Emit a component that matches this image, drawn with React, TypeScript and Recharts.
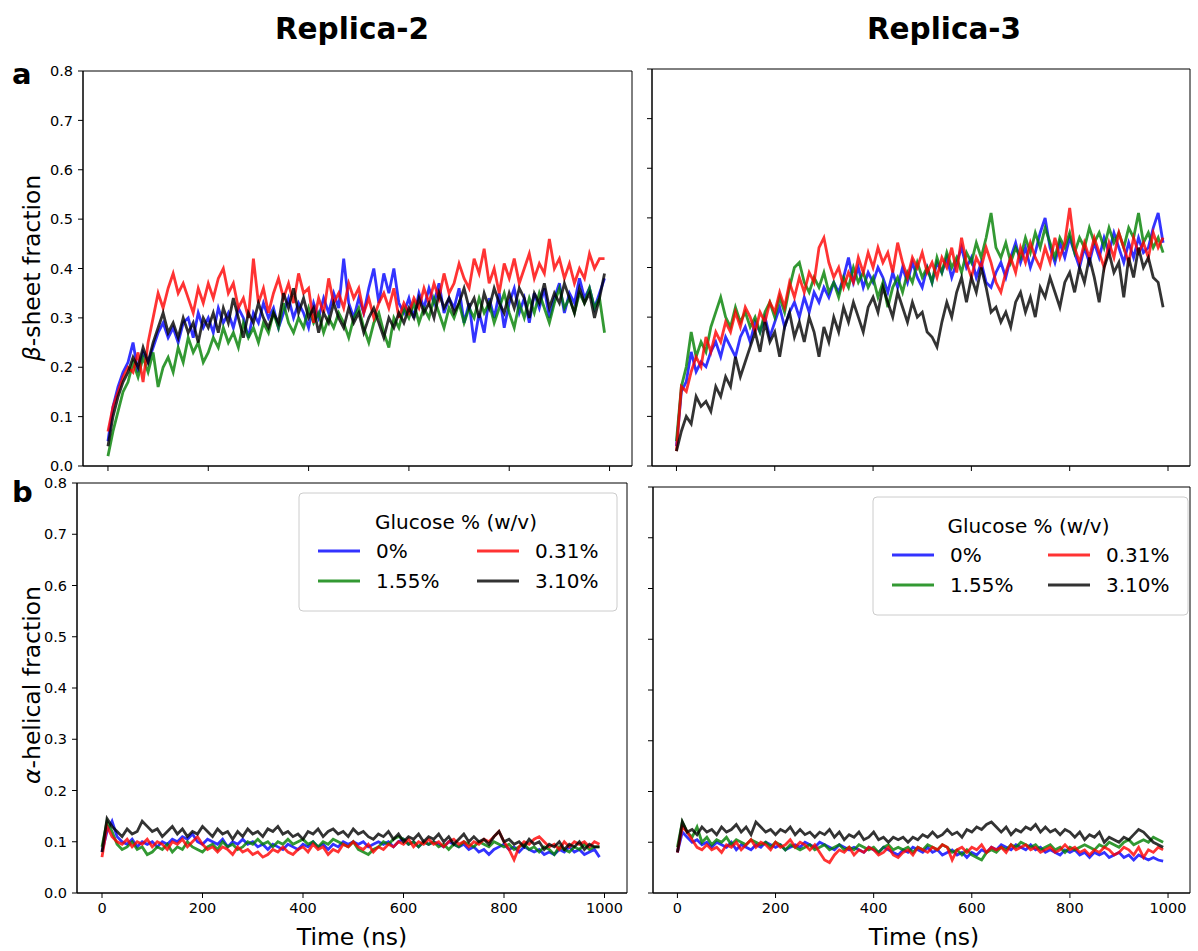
import React from "react";
import { LineChart, Line, XAxis, YAxis, ReferenceArea } from "recharts";

const FONT = "DejaVu Sans";

// time axis (ns), one sample every 10 ns
const timeNs = [
  0, 10, 20, 30, 40, 50, 60, 70, 80, 90, 100, 110, 120, 130, 140, 150, 160, 170, 180, 190,
  200, 210, 220, 230, 240, 250, 260, 270, 280, 290, 300, 310, 320, 330, 340, 350, 360, 370, 380, 390,
  400, 410, 420, 430, 440, 450, 460, 470, 480, 490, 500, 510, 520, 530, 540, 550, 560, 570, 580, 590,
  600, 610, 620, 630, 640, 650, 660, 670, 680, 690, 700, 710, 720, 730, 740, 750, 760, 770, 780, 790,
  800, 810, 820, 830, 840, 850, 860, 870, 880, 890, 900, 910, 920, 930, 940, 950, 960, 970, 980, 990,
];

const xTicks = [0, 200, 400, 600, 800, 1000];
const yTicks = [0, 0.1, 0.2, 0.3, 0.4, 0.5, 0.6, 0.7, 0.8];

// Replica-2, beta-sheet fraction
const r2SheetBlue = [
  0.05, 0.12, 0.16, 0.19, 0.21, 0.25, 0.19, 0.23, 0.21, 0.24, 0.27, 0.29, 0.26, 0.28, 0.25, 0.29, 0.30, 0.26, 0.31, 0.28,
  0.30, 0.27, 0.32, 0.29, 0.31, 0.28, 0.32, 0.30, 0.26, 0.31, 0.29, 0.33, 0.30, 0.32, 0.28, 0.31, 0.34, 0.30, 0.33, 0.31,
  0.28, 0.33, 0.30, 0.34, 0.31, 0.35, 0.32, 0.42, 0.33, 0.30, 0.34, 0.31, 0.36, 0.40, 0.33, 0.39, 0.35, 0.40, 0.33, 0.31,
  0.34, 0.30, 0.35, 0.32, 0.36, 0.33, 0.37, 0.31, 0.34, 0.32, 0.36, 0.29, 0.33, 0.25, 0.31, 0.27, 0.34, 0.30, 0.35, 0.28,
  0.33, 0.36, 0.31, 0.34, 0.29, 0.35, 0.32, 0.36, 0.30, 0.34, 0.37, 0.31, 0.35, 0.33, 0.38, 0.34, 0.36, 0.32, 0.35, 0.38,
];
const r2SheetRed = [
  0.07, 0.12, 0.15, 0.18, 0.20, 0.19, 0.23, 0.17, 0.25, 0.30, 0.35, 0.32, 0.36, 0.39, 0.35, 0.37, 0.34, 0.31, 0.36, 0.33,
  0.37, 0.34, 0.38, 0.40, 0.35, 0.37, 0.32, 0.34, 0.30, 0.42, 0.33, 0.36, 0.31, 0.35, 0.38, 0.34, 0.37, 0.33, 0.39, 0.35,
  0.36, 0.29, 0.34, 0.31, 0.38, 0.33, 0.35, 0.32, 0.37, 0.34, 0.36, 0.31, 0.34, 0.30, 0.33, 0.35, 0.32, 0.36, 0.30, 0.33,
  0.31, 0.34, 0.32, 0.36, 0.33, 0.37, 0.34, 0.39, 0.35, 0.37, 0.41, 0.38, 0.36, 0.42, 0.39, 0.44, 0.37, 0.40, 0.35, 0.41,
  0.38, 0.42, 0.37, 0.40, 0.43, 0.38, 0.41, 0.39, 0.46, 0.40, 0.42, 0.38, 0.41, 0.37, 0.40, 0.38, 0.43, 0.40, 0.42, 0.42,
];
const r2SheetGreen = [
  0.02, 0.07, 0.11, 0.15, 0.17, 0.21, 0.18, 0.22, 0.19, 0.23, 0.16, 0.20, 0.22, 0.19, 0.24, 0.21, 0.26, 0.23, 0.25, 0.21,
  0.23, 0.26, 0.24, 0.28, 0.25, 0.27, 0.24, 0.29, 0.26, 0.28, 0.25, 0.29, 0.27, 0.31, 0.28, 0.33, 0.29, 0.27, 0.30, 0.28,
  0.32, 0.29, 0.31, 0.27, 0.30, 0.28, 0.31, 0.29, 0.26, 0.30, 0.32, 0.28, 0.25, 0.29, 0.31, 0.27, 0.24, 0.30, 0.28, 0.32,
  0.30, 0.33, 0.29, 0.32, 0.30, 0.34, 0.31, 0.28, 0.32, 0.30, 0.33, 0.29, 0.32, 0.30, 0.34, 0.31, 0.33, 0.29, 0.32, 0.35,
  0.31, 0.28, 0.33, 0.30, 0.34, 0.31, 0.35, 0.32, 0.29, 0.33, 0.36, 0.32, 0.34, 0.31, 0.35, 0.33, 0.36, 0.32, 0.34, 0.27,
];
const r2SheetBlack = [
  0.04, 0.10, 0.14, 0.17, 0.19, 0.22, 0.20, 0.24, 0.21, 0.25, 0.28, 0.31, 0.27, 0.29, 0.26, 0.30, 0.27, 0.29, 0.25, 0.30,
  0.28, 0.31, 0.27, 0.32, 0.29, 0.34, 0.30, 0.26, 0.31, 0.29, 0.33, 0.30, 0.28, 0.31, 0.29, 0.35, 0.32, 0.36, 0.31, 0.34,
  0.30, 0.32, 0.27, 0.31, 0.29, 0.33, 0.30, 0.28, 0.32, 0.29, 0.31, 0.27, 0.30, 0.32, 0.29, 0.26, 0.30, 0.28, 0.31, 0.29,
  0.32, 0.30, 0.34, 0.31, 0.33, 0.30, 0.35, 0.32, 0.34, 0.31, 0.33, 0.36, 0.32, 0.34, 0.30, 0.35, 0.32, 0.36, 0.33, 0.31,
  0.35, 0.32, 0.36, 0.34, 0.30, 0.35, 0.33, 0.37, 0.32, 0.35, 0.33, 0.37, 0.34, 0.31, 0.36, 0.33, 0.35, 0.30, 0.34, 0.39,
];

// Replica-3, beta-sheet fraction
const r3SheetBlue = [
  0.04, 0.15, 0.17, 0.23, 0.19, 0.21, 0.20, 0.23, 0.25, 0.22, 0.26, 0.24, 0.22, 0.26, 0.28, 0.25, 0.29, 0.27, 0.30, 0.26,
  0.29, 0.32, 0.28, 0.31, 0.33, 0.30, 0.34, 0.31, 0.35, 0.33, 0.36, 0.34, 0.37, 0.35, 0.38, 0.42, 0.37, 0.40, 0.36, 0.39,
  0.37, 0.40, 0.38, 0.35, 0.39, 0.36, 0.40, 0.37, 0.41, 0.38, 0.36, 0.40, 0.37, 0.41, 0.39, 0.42, 0.38, 0.41, 0.44, 0.40,
  0.42, 0.38, 0.41, 0.37, 0.36, 0.39, 0.41, 0.38, 0.42, 0.45, 0.41, 0.44, 0.40, 0.43, 0.47, 0.50, 0.44, 0.41, 0.45, 0.42,
  0.46, 0.43, 0.40, 0.44, 0.41, 0.45, 0.42, 0.46, 0.43, 0.47, 0.44, 0.41, 0.45, 0.42, 0.46, 0.43, 0.44, 0.48, 0.51, 0.45,
];
const r3SheetRed = [
  0.03, 0.16, 0.15, 0.19, 0.22, 0.20, 0.26, 0.23, 0.27, 0.25, 0.29, 0.27, 0.31, 0.28, 0.32, 0.30, 0.27, 0.31, 0.29, 0.33,
  0.31, 0.35, 0.32, 0.37, 0.34, 0.38, 0.35, 0.39, 0.37, 0.44, 0.46, 0.41, 0.38, 0.40, 0.36, 0.39, 0.37, 0.42, 0.39, 0.43,
  0.40, 0.44, 0.41, 0.43, 0.39, 0.45, 0.41, 0.38, 0.42, 0.40, 0.43, 0.39, 0.41, 0.38, 0.42, 0.40, 0.44, 0.39, 0.46, 0.41,
  0.38, 0.42, 0.40, 0.44, 0.41, 0.37, 0.35, 0.39, 0.42, 0.39, 0.44, 0.41, 0.45, 0.42, 0.40, 0.44, 0.41, 0.46, 0.42, 0.45,
  0.52, 0.44, 0.41, 0.45, 0.42, 0.46, 0.43, 0.40, 0.45, 0.42, 0.47, 0.44, 0.41, 0.46, 0.43, 0.45, 0.42, 0.47, 0.44, 0.46,
];
const r3SheetGreen = [
  0.05, 0.16, 0.20, 0.27, 0.22, 0.25, 0.23, 0.28, 0.31, 0.34, 0.30, 0.28, 0.32, 0.29, 0.31, 0.28, 0.30, 0.27, 0.31, 0.33,
  0.30, 0.34, 0.31, 0.36, 0.40, 0.41, 0.37, 0.35, 0.38, 0.36, 0.39, 0.35, 0.37, 0.34, 0.38, 0.36, 0.40, 0.37, 0.39, 0.36,
  0.38, 0.34, 0.37, 0.32, 0.36, 0.38, 0.35, 0.39, 0.37, 0.41, 0.38, 0.40, 0.37, 0.42, 0.39, 0.43, 0.40, 0.42, 0.39, 0.43,
  0.41, 0.45, 0.42, 0.46, 0.51, 0.44, 0.42, 0.45, 0.41, 0.44, 0.42, 0.46, 0.43, 0.47, 0.44, 0.48, 0.45, 0.42, 0.46, 0.44,
  0.47, 0.43, 0.46, 0.44, 0.48, 0.45, 0.47, 0.44, 0.48, 0.45, 0.47, 0.44, 0.48, 0.46, 0.51, 0.45, 0.47, 0.44, 0.46, 0.43,
];
const r3SheetBlack = [
  0.03, 0.07, 0.10, 0.085, 0.14, 0.12, 0.13, 0.11, 0.16, 0.14, 0.18, 0.16, 0.22, 0.18, 0.21, 0.24, 0.27, 0.23, 0.29, 0.25,
  0.27, 0.22, 0.28, 0.31, 0.26, 0.29, 0.25, 0.30, 0.27, 0.22, 0.28, 0.25, 0.30, 0.27, 0.32, 0.29, 0.33, 0.30, 0.27, 0.32,
  0.34, 0.31, 0.36, 0.33, 0.30, 0.35, 0.32, 0.29, 0.33, 0.30, 0.31, 0.27, 0.26, 0.24, 0.29, 0.33, 0.30, 0.35, 0.38, 0.33,
  0.38, 0.35, 0.40, 0.36, 0.31, 0.32, 0.29, 0.31, 0.28, 0.33, 0.35, 0.31, 0.34, 0.30, 0.36, 0.34, 0.38, 0.35, 0.32, 0.37,
  0.39, 0.35, 0.40, 0.37, 0.42, 0.38, 0.33, 0.40, 0.43, 0.39, 0.41, 0.34, 0.42, 0.38, 0.44, 0.40, 0.42, 0.38, 0.37, 0.32,
];

// Replica-2, alpha-helical fraction
const r2HelixBlue = [
  0.08, 0.12, 0.14, 0.11, 0.1, 0.095, 0.105, 0.09, 0.1, 0.095, 0.1, 0.09, 0.1, 0.095, 0.105, 0.1, 0.11, 0.105, 0.115, 0.1,
  0.095, 0.105, 0.1, 0.095, 0.105, 0.09, 0.1, 0.095, 0.105, 0.095, 0.1, 0.09, 0.095, 0.085, 0.095, 0.09, 0.085, 0.095, 0.09, 0.085,
  0.095, 0.09, 0.1, 0.09, 0.095, 0.085, 0.095, 0.09, 0.1, 0.095, 0.1, 0.095, 0.1, 0.09, 0.095, 0.1, 0.095, 0.1, 0.09, 0.1,
  0.105, 0.095, 0.1, 0.09, 0.1, 0.095, 0.1, 0.095, 0.09, 0.1, 0.095, 0.09, 0.095, 0.085, 0.09, 0.08, 0.085, 0.075, 0.085, 0.09,
  0.095, 0.085, 0.09, 0.08, 0.09, 0.085, 0.08, 0.085, 0.075, 0.08, 0.075, 0.085, 0.08, 0.09, 0.08, 0.085, 0.075, 0.08, 0.085, 0.07,
];
const r2HelixRed = [
  0.07, 0.13, 0.11, 0.1, 0.095, 0.105, 0.09, 0.1, 0.095, 0.105, 0.09, 0.1, 0.095, 0.085, 0.1, 0.095, 0.105, 0.09, 0.1, 0.11,
  0.095, 0.085, 0.09, 0.08, 0.09, 0.085, 0.075, 0.09, 0.08, 0.085, 0.075, 0.08, 0.07, 0.075, 0.085, 0.08, 0.09, 0.08, 0.075, 0.085,
  0.09, 0.08, 0.095, 0.085, 0.09, 0.075, 0.085, 0.08, 0.095, 0.09, 0.1, 0.09, 0.085, 0.095, 0.08, 0.09, 0.085, 0.095, 0.09, 0.1,
  0.095, 0.105, 0.09, 0.1, 0.095, 0.105, 0.095, 0.1, 0.09, 0.1, 0.105, 0.095, 0.1, 0.09, 0.1, 0.095, 0.105, 0.1, 0.11, 0.12,
  0.1, 0.085, 0.065, 0.09, 0.1, 0.095, 0.105, 0.11, 0.1, 0.09, 0.095, 0.085, 0.1, 0.09, 0.1, 0.095, 0.1, 0.09, 0.1, 0.095,
];
const r2HelixGreen = [
  0.09, 0.14, 0.12, 0.095, 0.085, 0.09, 0.1, 0.085, 0.09, 0.075, 0.08, 0.09, 0.085, 0.095, 0.08, 0.09, 0.085, 0.1, 0.09, 0.085,
  0.08, 0.09, 0.095, 0.085, 0.1, 0.09, 0.095, 0.085, 0.09, 0.1, 0.095, 0.105, 0.095, 0.1, 0.09, 0.1, 0.095, 0.105, 0.095, 0.1,
  0.105, 0.095, 0.1, 0.09, 0.1, 0.095, 0.105, 0.1, 0.095, 0.09, 0.1, 0.085, 0.08, 0.075, 0.085, 0.09, 0.1, 0.095, 0.105, 0.11,
  0.105, 0.095, 0.1, 0.09, 0.1, 0.095, 0.1, 0.09, 0.095, 0.085, 0.095, 0.09, 0.1, 0.095, 0.09, 0.1, 0.095, 0.09, 0.1, 0.095,
  0.09, 0.095, 0.085, 0.09, 0.095, 0.085, 0.09, 0.08, 0.09, 0.085, 0.075, 0.09, 0.085, 0.08, 0.09, 0.085, 0.095, 0.085, 0.09, 0.09,
];
const r2HelixBlack = [
  0.08, 0.145, 0.13, 0.12, 0.11, 0.125, 0.115, 0.12, 0.14, 0.13, 0.12, 0.125, 0.11, 0.12, 0.13, 0.115, 0.125, 0.11, 0.12, 0.115,
  0.13, 0.12, 0.11, 0.125, 0.115, 0.12, 0.105, 0.12, 0.11, 0.125, 0.115, 0.12, 0.11, 0.125, 0.12, 0.13, 0.115, 0.12, 0.11, 0.115,
  0.105, 0.12, 0.115, 0.125, 0.11, 0.12, 0.125, 0.115, 0.12, 0.11, 0.125, 0.115, 0.12, 0.11, 0.105, 0.115, 0.11, 0.12, 0.105, 0.115,
  0.1, 0.11, 0.105, 0.115, 0.1, 0.11, 0.105, 0.115, 0.1, 0.11, 0.095, 0.105, 0.115, 0.1, 0.11, 0.1, 0.105, 0.095, 0.11, 0.12,
  0.1, 0.105, 0.095, 0.1, 0.09, 0.105, 0.095, 0.1, 0.085, 0.095, 0.09, 0.1, 0.085, 0.095, 0.09, 0.1, 0.085, 0.095, 0.09, 0.09,
];

// Replica-3, alpha-helical fraction
const r3HelixBlue = [
  0.08, 0.12, 0.11, 0.1, 0.105, 0.095, 0.1, 0.09, 0.1, 0.095, 0.09, 0.1, 0.085, 0.095, 0.09, 0.085, 0.095, 0.09, 0.1, 0.095,
  0.09, 0.095, 0.085, 0.09, 0.095, 0.09, 0.1, 0.095, 0.09, 0.1, 0.095, 0.09, 0.085, 0.095, 0.09, 0.085, 0.09, 0.085, 0.08, 0.09,
  0.085, 0.08, 0.09, 0.085, 0.08, 0.075, 0.085, 0.08, 0.09, 0.085, 0.08, 0.09, 0.08, 0.085, 0.075, 0.08, 0.085, 0.075, 0.08, 0.07,
  0.08, 0.075, 0.085, 0.08, 0.09, 0.085, 0.095, 0.09, 0.085, 0.095, 0.09, 0.085, 0.095, 0.085, 0.09, 0.08, 0.085, 0.08, 0.075, 0.085,
  0.08, 0.085, 0.075, 0.08, 0.07, 0.08, 0.075, 0.08, 0.07, 0.075, 0.08, 0.07, 0.075, 0.065, 0.075, 0.07, 0.065, 0.07, 0.065, 0.063,
];
const r3HelixRed = [
  0.08, 0.13, 0.12, 0.105, 0.09, 0.085, 0.095, 0.085, 0.09, 0.08, 0.095, 0.09, 0.1, 0.085, 0.095, 0.105, 0.09, 0.1, 0.095, 0.085,
  0.1, 0.09, 0.095, 0.105, 0.09, 0.1, 0.095, 0.085, 0.095, 0.08, 0.065, 0.06, 0.075, 0.085, 0.08, 0.09, 0.075, 0.085, 0.08, 0.09,
  0.085, 0.075, 0.08, 0.09, 0.075, 0.07, 0.08, 0.085, 0.075, 0.09, 0.085, 0.08, 0.09, 0.085, 0.095, 0.09, 0.065, 0.085, 0.09, 0.08,
  0.09, 0.085, 0.095, 0.08, 0.09, 0.085, 0.09, 0.08, 0.095, 0.085, 0.09, 0.095, 0.085, 0.09, 0.08, 0.085, 0.09, 0.08, 0.085, 0.095,
  0.085, 0.09, 0.08, 0.085, 0.075, 0.085, 0.08, 0.09, 0.085, 0.075, 0.08, 0.09, 0.085, 0.075, 0.09, 0.07, 0.085, 0.08, 0.09, 0.085,
];
const r3HelixGreen = [
  0.09, 0.14, 0.12, 0.11, 0.13, 0.1, 0.11, 0.095, 0.105, 0.1, 0.11, 0.095, 0.105, 0.1, 0.095, 0.105, 0.1, 0.095, 0.1, 0.09,
  0.1, 0.095, 0.085, 0.095, 0.09, 0.085, 0.09, 0.095, 0.085, 0.09, 0.095, 0.085, 0.09, 0.095, 0.085, 0.09, 0.085, 0.095, 0.09, 0.085,
  0.09, 0.08, 0.09, 0.095, 0.085, 0.09, 0.085, 0.09, 0.08, 0.09, 0.085, 0.095, 0.09, 0.085, 0.095, 0.09, 0.08, 0.085, 0.075, 0.085,
  0.075, 0.07, 0.065, 0.08, 0.085, 0.08, 0.09, 0.085, 0.095, 0.09, 0.1, 0.095, 0.09, 0.095, 0.085, 0.09, 0.095, 0.085, 0.09, 0.08,
  0.09, 0.085, 0.09, 0.095, 0.09, 0.085, 0.095, 0.09, 0.1, 0.095, 0.09, 0.1, 0.105, 0.095, 0.1, 0.105, 0.1, 0.11, 0.105, 0.1,
];
const r3HelixBlack = [
  0.08, 0.14, 0.12, 0.125, 0.115, 0.13, 0.12, 0.125, 0.115, 0.13, 0.12, 0.125, 0.135, 0.12, 0.13, 0.115, 0.14, 0.13, 0.12, 0.125,
  0.115, 0.125, 0.12, 0.13, 0.115, 0.125, 0.115, 0.12, 0.11, 0.12, 0.115, 0.125, 0.11, 0.12, 0.105, 0.115, 0.11, 0.12, 0.105, 0.11,
  0.12, 0.105, 0.11, 0.1, 0.11, 0.105, 0.11, 0.1, 0.11, 0.105, 0.115, 0.11, 0.12, 0.11, 0.115, 0.125, 0.115, 0.12, 0.11, 0.125,
  0.12, 0.13, 0.125, 0.135, 0.14, 0.13, 0.12, 0.13, 0.115, 0.125, 0.12, 0.13, 0.125, 0.135, 0.12, 0.13, 0.12, 0.125, 0.115, 0.125,
  0.12, 0.11, 0.12, 0.105, 0.115, 0.11, 0.12, 0.1, 0.11, 0.105, 0.1, 0.11, 0.105, 0.115, 0.125, 0.12, 0.11, 0.1, 0.095, 0.09,
];

const series = [
  { key: "g0", name: "0%", color: "#0000ff" },
  { key: "g155", name: "1.55%", color: "#008000" },
  { key: "g031", name: "0.31%", color: "#ff0000" },
  { key: "g310", name: "3.10%", color: "#000000" },
];
// legend is laid out row by row
const legendOrder = ["g0", "g031", "g155", "g310"];

const X_MIN = -49.75;
const X_MAX = 1044.75;

function buildRows(blue: number[], red: number[], green: number[], black: number[]) {
  return timeNs.map((t, i) => ({ t, g0: blue[i], g031: red[i], g155: green[i], g310: black[i] }));
}

const rowsA2 = buildRows(r2SheetBlue, r2SheetRed, r2SheetGreen, r2SheetBlack);
const rowsA3 = buildRows(r3SheetBlue, r3SheetRed, r3SheetGreen, r3SheetBlack);
const rowsB2 = buildRows(r2HelixBlue, r2HelixRed, r2HelixGreen, r2HelixBlack);
const rowsB3 = buildRows(r3HelixBlue, r3HelixRed, r3HelixGreen, r3HelixBlack);

type PanelProps = {
  rows: any[];
  left: number;
  top: number;
  width: number;
  height: number;
  margin: { top: number; right: number; bottom: number; left: number };
  yWidth: number;
  xHeight: number;
  showX: boolean;
  showY: boolean;
};

function Panel({ rows, left, top, width, height, margin, yWidth, xHeight, showX, showY }: PanelProps) {
  const tickStyle = { fill: "#000", fontSize: 14.5, fontFamily: FONT };
  return (
    <div style={{ position: "absolute", left, top, width, height }}>
      <LineChart width={width} height={height} data={rows} margin={margin}>
        <XAxis
          dataKey="t"
          type="number"
          domain={[X_MIN, X_MAX]}
          ticks={xTicks}
          interval={0}
          height={xHeight}
          stroke="#000"
          tick={tickStyle}
          tickSize={5}
          tickMargin={5}
          tickFormatter={showX ? (v: number) => String(v) : () => ""}
          allowDataOverflow
        />
        <YAxis
          type="number"
          domain={[0, 0.8]}
          ticks={yTicks}
          interval={0}
          width={yWidth}
          stroke="#000"
          tick={tickStyle}
          tickSize={5}
          tickMargin={5}
          tickFormatter={showY ? (v: number) => v.toFixed(1) : () => ""}
          allowDataOverflow
        />
        <ReferenceArea x1={X_MIN} x2={X_MAX} y1={0} y2={0.8} fill="none" stroke="#000" strokeWidth={1} />
        {series.map((s) => (
          <Line
            key={s.key}
            type="linear"
            dataKey={s.key}
            name={s.name}
            stroke={s.color}
            strokeOpacity={0.8}
            strokeWidth={2.8}
            dot={false}
            activeDot={false}
            isAnimationActive={false}
          />
        ))}
      </LineChart>
    </div>
  );
}

function LegendBox({ x, y, w, col2 }: { x: number; y: number; w: number; col2: number }) {
  const cols = [0, col2];
  const rowsY = [58, 88];
  return (
    <g>
      <rect x={x} y={y} width={w} height={118} rx={4} fill="#fff" fillOpacity={0.8} stroke="#cccccc" strokeWidth={1} />
      <text x={x + w / 2 - 2} y={y + 36} textAnchor="middle" fontSize={20} fontFamily={FONT} fill="#000">
        Glucose % (w/v)
      </text>
      {legendOrder.map((k, i) => {
        const s = series.find((d) => d.key === k)!;
        const cx = x + cols[i % 2];
        const cy = y + rowsY[Math.floor(i / 2)];
        return (
          <g key={k}>
            <line x1={cx + 19} x2={cx + 61} y1={cy} y2={cy} stroke={s.color} strokeOpacity={0.8} strokeWidth={2.8} />
            <text x={cx + 77} y={cy + 7} fontSize={20} fontFamily={FONT} fill="#000">
              {s.name}
            </text>
          </g>
        );
      })}
    </g>
  );
}

export default function App() {
  return (
    <div style={{ position: "absolute", left: 0, top: 0, width: 1198, height: 951, background: "#fff" }}>
      <Panel rows={rowsA2} left={0} top={40} width={640} height={440}
        margin={{ top: 31, right: 8, bottom: 0, left: 0 }} yWidth={83} xHeight={14} showX={false} showY={true} />
      <Panel rows={rowsA3} left={600} top={40} width={598} height={440}
        margin={{ top: 29, right: 8, bottom: 0, left: 0 }} yWidth={52} xHeight={14} showX={false} showY={false} />
      <Panel rows={rowsB2} left={0} top={470} width={640} height={481}
        margin={{ top: 13, right: 13, bottom: 0, left: 0 }} yWidth={77} xHeight={58} showX={true} showY={true} />
      <Panel rows={rowsB3} left={600} top={470} width={598} height={481}
        margin={{ top: 17, right: 8, bottom: 0, left: 0 }} yWidth={53} xHeight={58} showX={true} showY={false} />

      <svg width={1198} height={951} style={{ position: "absolute", left: 0, top: 0, pointerEvents: "none" }}>
        <text x={352} y={39} textAnchor="middle" fontSize={29.5} fontWeight="bold" fontFamily={FONT}>Replica-2</text>
        <text x={944} y={39} textAnchor="middle" fontSize={29.5} fontWeight="bold" fontFamily={FONT}>Replica-3</text>
        <text x={12} y={84} fontSize={29} fontWeight="bold" fontFamily={FONT}>a</text>
        <text x={12} y={502} fontSize={29} fontWeight="bold" fontFamily={FONT}>b</text>
        <text transform="translate(40,268) rotate(-90)" textAnchor="middle" fontSize={23.5} fontFamily={FONT}>
          <tspan fontStyle="italic">β</tspan>-sheet fraction
        </text>
        <text transform="translate(40,685) rotate(-90)" textAnchor="middle" fontSize={23.5} fontFamily={FONT}>
          <tspan fontStyle="italic">α</tspan>-helical fraction
        </text>
        <text x={352} y={945} textAnchor="middle" fontSize={23.5} fontFamily={FONT}>Time (ns)</text>
        <text x={924} y={945} textAnchor="middle" fontSize={23.5} fontFamily={FONT}>Time (ns)</text>
        <LegendBox x={299} y={493} w={318} col2={159} />
        <LegendBox x={873} y={497} w={315} col2={156} />
      </svg>
    </div>
  );
}
